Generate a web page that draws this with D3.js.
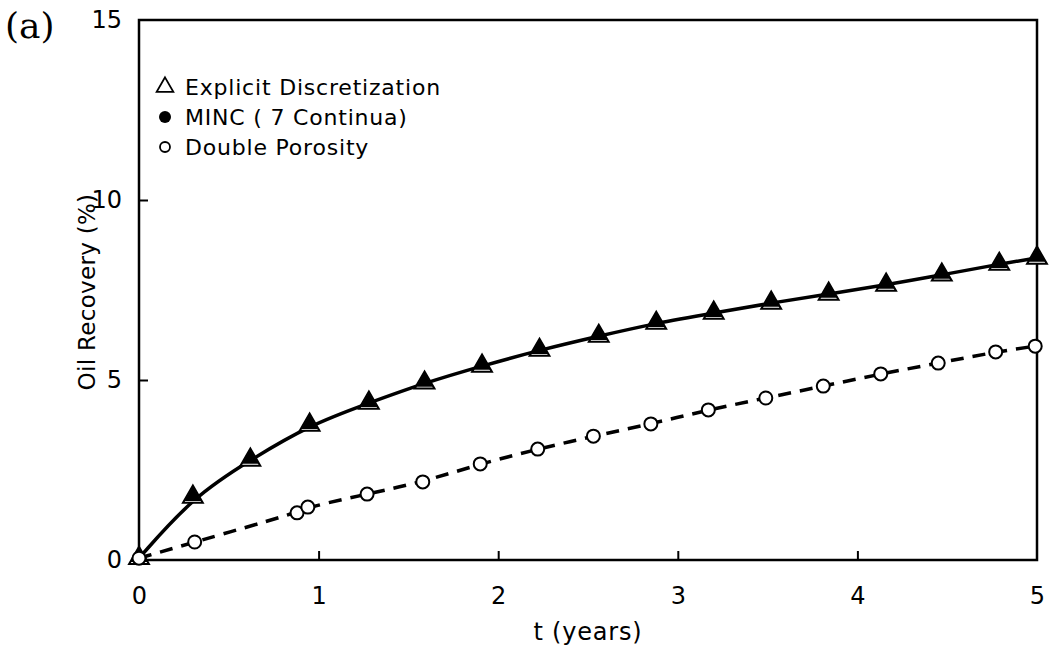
<!DOCTYPE html>
<html>
<head>
<meta charset="utf-8">
<script src="https://cdn.jsdelivr.net/npm/d3@7"></script>
<style>
  body { margin: 0; background: #fff; }
  svg text { font-family: "DejaVu Sans", "Liberation Sans", sans-serif; fill: #000; }
</style>
</head>
<body>
<div class="chart"></div>
<script>
// MINC (7 continua) / explicit discretization points (they coincide)
var mincT = [0, 0.3, 0.62, 0.95, 1.28, 1.59, 1.91, 2.23, 2.56, 2.88, 3.2, 3.52, 3.84, 4.16, 4.47, 4.79, 5.0];
var mincY = [0.05, 1.75, 2.78, 3.75, 4.36, 4.92, 5.39, 5.83, 6.22, 6.58, 6.86, 7.14, 7.39, 7.64, 7.92, 8.22, 8.39];

// double porosity points
var dpT = [0, 0.31, 0.88, 0.94, 1.27, 1.58, 1.9, 2.22, 2.53, 2.85, 3.17, 3.49, 3.81, 4.13, 4.45, 4.77, 4.99];
var dpY = [0.05, 0.5, 1.31, 1.47, 1.83, 2.17, 2.67, 3.08, 3.44, 3.78, 4.17, 4.5, 4.83, 5.17, 5.47, 5.78, 5.94];

var xTicks = [0, 1, 2, 3, 4, 5];
var yTicks = [0, 5, 10, 15];
var legendLabels = ["Explicit Discretization", "MINC ( 7 Continua)", "Double Porosity"];

var width = 1049;
var height = 649;
var margin = { left: 139, right: 12, top: 20, bottom: 89 };

var x = d3.scaleLinear().domain([0, 5]).range([margin.left, width - margin.right]);
var y = d3.scaleLinear().domain([0, 15]).range([height - margin.bottom, margin.top]);

var svg = d3
  .select(".chart")
  .append("svg")
  .attr("width", width)
  .attr("height", height);

var minc = mincT.map(function(t, i) { return [t, mincY[i]]; });
var dp = dpT.map(function(t, i) { return [t, dpY[i]]; });

// frame
svg.append("rect")
  .attr("x", x(0))
  .attr("y", y(15))
  .attr("width", x(5) - x(0))
  .attr("height", y(0) - y(15))
  .attr("fill", "none")
  .attr("stroke", "#000")
  .attr("stroke-width", 2.5);

// axes with inward ticks
var xAxis = svg.append("g")
  .attr("transform", "translate(0," + y(0) + ")")
  .call(d3.axisBottom(x).tickValues(xTicks).tickSize(-9).tickPadding(27).tickFormat(d3.format("d")));
var yAxis = svg.append("g")
  .attr("transform", "translate(" + x(0) + ",0)")
  .call(d3.axisLeft(y).tickValues(yTicks).tickSize(-9).tickPadding(17).tickFormat(d3.format("d")));

[xAxis, yAxis].forEach(function(g) {
  g.select(".domain").remove();
  g.selectAll("line").attr("stroke", "#000").attr("stroke-width", 2);
  g.selectAll("text").style("font-size", "24px").attr("fill", "#000");
});
xAxis.selectAll(".tick")
  .filter(function(d) { return d === 0 || d === 5; })
  .select("line").remove();
yAxis.selectAll(".tick")
  .filter(function(d) { return d === 0 || d === 15; })
  .select("line").remove();

// curves
var line = d3.line()
  .x(function(d) { return x(d[0]); })
  .y(function(d) { return y(d[1]); })
  .curve(d3.curveBasis);

svg.append("path")
  .datum(minc)
  .attr("d", line)
  .attr("fill", "none")
  .attr("stroke", "#000")
  .attr("stroke-width", 3.5);

svg.append("path")
  .datum(dp)
  .attr("d", line)
  .attr("fill", "none")
  .attr("stroke", "#000")
  .attr("stroke-width", 3.5)
  .attr("stroke-dasharray", "13,9");

var tri = d3.symbol().type(d3.symbolTriangle).size(170);

// explicit discretization: open triangles
svg.selectAll(".exp")
  .data(minc)
  .enter()
  .append("path")
  .attr("class", "exp")
  .attr("d", tri)
  .attr("transform", function(d) { return "translate(" + x(d[0]) + "," + y(d[1]) + ")"; })
  .attr("fill", "#fff")
  .attr("stroke", "#000")
  .attr("stroke-width", 2);

// MINC: filled markers sitting on the triangles
svg.selectAll(".minc")
  .data(minc)
  .enter()
  .append("path")
  .attr("class", "minc")
  .attr("d", d3.symbol().type(d3.symbolTriangle).size(125))
  .attr("transform", function(d) { return "translate(" + x(d[0]) + "," + (y(d[1]) - 1) + ")"; })
  .attr("fill", "#000");

// double porosity: open circles
svg.selectAll(".dp")
  .data(dp)
  .enter()
  .append("circle")
  .attr("class", "dp")
  .attr("cx", function(d) { return x(d[0]); })
  .attr("cy", function(d) { return y(d[1]); })
  .attr("r", 6.5)
  .attr("fill", "#fff")
  .attr("stroke", "#000")
  .attr("stroke-width", 2);

// legend
var legend = svg.append("g").attr("transform", "translate(165,87)");
legend.append("path")
  .attr("d", d3.symbol().type(d3.symbolTriangle).size(120))
  .attr("fill", "#fff")
  .attr("stroke", "#000")
  .attr("stroke-width", 1.8);
legend.append("circle")
  .attr("cy", 30)
  .attr("r", 6)
  .attr("fill", "#000");
legend.append("circle")
  .attr("cy", 60)
  .attr("r", 5)
  .attr("fill", "#fff")
  .attr("stroke", "#000")
  .attr("stroke-width", 1.8);
legend.selectAll("text")
  .data(legendLabels)
  .enter()
  .append("text")
  .attr("x", 20)
  .attr("y", function(d, i) { return i * 30; })
  .attr("dy", "0.35em")
  .style("font-size", "22px")
  .style("letter-spacing", "0.8px")
  .text(function(d) { return d; });

// axis titles
svg.append("text")
  .attr("x", x(2.5))
  .attr("y", 640)
  .attr("text-anchor", "middle")
  .style("font-size", "24px")
  .style("letter-spacing", "0.8px")
  .text("t (years)");

svg.append("text")
  .attr("transform", "translate(95," + (y(7.5) + 2) + ") rotate(-90)")
  .attr("text-anchor", "middle")
  .style("font-size", "23px")
  .style("letter-spacing", "0.3px")
  .text("Oil Recovery (%)");

svg.append("text")
  .attr("x", 5)
  .attr("y", 38)
  .style("font-family", "'DejaVu Serif', 'Liberation Serif', serif")
  .style("font-size", "36px")
  .text("(a)");
</script>
</body>
</html>
